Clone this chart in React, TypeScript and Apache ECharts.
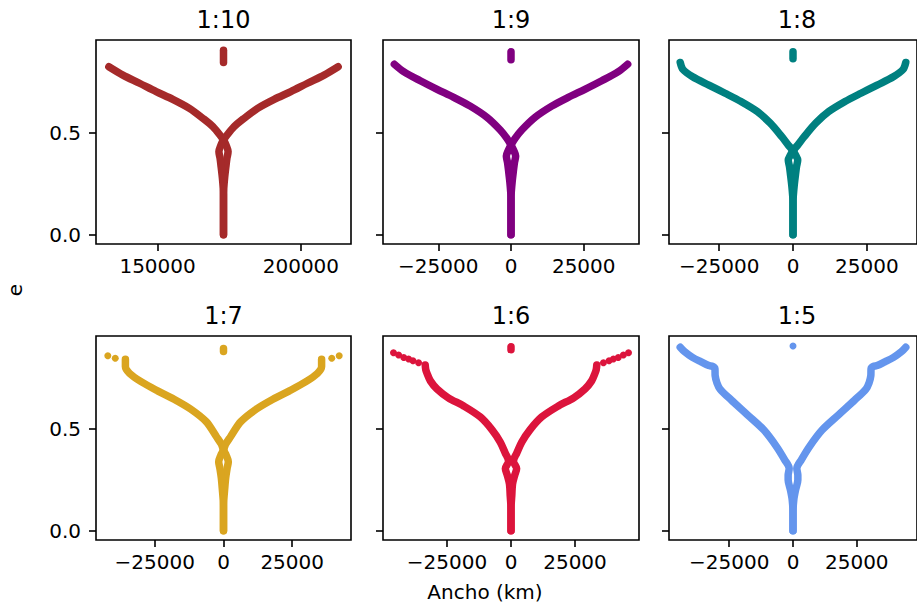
import React, { useEffect, useRef } from "react";
import * as echarts from "echarts";

const FONT = "DejaVu Sans";

const titles = ["1:10", "1:9", "1:8", "1:7", "1:6", "1:5"];
const colors = ["#a52a2a", "#800080", "#008080", "#daa520", "#dc143c", "#6495ed"];

const xMin = [128510, -44000, -42000, -46400, -50000, -48600];
const xMax = [217490, 44000, 42000, 46400, 50000, 48600];
const xTicksFirst = [150000, 200000];
const xTicksOther = [-25000, 0, 25000];
const yTicks = [0, 0.5];
const yMin = -0.045;
const yMax = 0.955;

// Panel 1:10
const p1Left = [[133000, 0.824], [137900, 0.783], [143700, 0.743], [149500, 0.702], [155300, 0.664], [161100, 0.62], [165800, 0.571], [169300, 0.53], [172200, 0.481], [173000, 0.465], [173900, 0.44], [174600, 0.408], [174200, 0.375], [173800, 0.33], [173400, 0.28], [173100, 0.23], [173000, 0.2], [173000, 0]];
const p1Right = [[213000, 0.824], [208100, 0.783], [202300, 0.743], [196500, 0.702], [190700, 0.664], [184900, 0.62], [180200, 0.571], [176700, 0.53], [173800, 0.481], [173000, 0.465], [172100, 0.44], [171400, 0.408], [171800, 0.375], [172200, 0.33], [172600, 0.28], [172900, 0.23], [173000, 0.2], [173000, 0]];
const p1Dash = [[173000, 0.845], [173000, 0.905]];

// Panel 1:9
const p2Left = [[-40100, 0.836], [-36900, 0.8], [-31200, 0.755], [-25400, 0.713], [-19700, 0.674], [-14000, 0.631], [-8250, 0.576], [-3700, 0.514], [-1400, 0.473], [0, 0.44], [900, 0.415], [1600, 0.386], [1200, 0.355], [800, 0.31], [400, 0.26], [100, 0.21], [0, 0.18], [0, 0]];
const p2Right = [[40100, 0.836], [36900, 0.8], [31200, 0.755], [25400, 0.713], [19700, 0.674], [14000, 0.631], [8250, 0.576], [3700, 0.514], [1400, 0.473], [0, 0.44], [-900, 0.415], [-1600, 0.386], [-1200, 0.355], [-800, 0.31], [-400, 0.26], [-100, 0.21], [0, 0.18], [0, 0]];
const p2Dash = [[0, 0.858], [0, 0.897]];

// Panel 1:8
const p3Left = [[-38200, 0.845], [-37300, 0.811], [-34000, 0.775], [-28500, 0.734], [-23000, 0.694], [-17600, 0.653], [-12100, 0.604], [-7700, 0.547], [-3800, 0.481], [-1600, 0.44], [0, 0.412], [900, 0.39], [1600, 0.367], [1200, 0.335], [800, 0.29], [400, 0.24], [100, 0.19], [0, 0.16], [0, 0]];
const p3Right = [[38200, 0.845], [37300, 0.811], [34000, 0.775], [28500, 0.734], [23000, 0.694], [17600, 0.653], [12100, 0.604], [7700, 0.547], [3800, 0.481], [1600, 0.44], [0, 0.412], [-900, 0.39], [-1600, 0.367], [-1200, 0.335], [-800, 0.29], [-400, 0.24], [-100, 0.19], [0, 0.16], [0, 0]];
const p3Dash = [[0, 0.863], [0, 0.897]];

// Panel 1:7
const p4Left = [[-35700, 0.841], [-35700, 0.805], [-34200, 0.772], [-30000, 0.731], [-24000, 0.686], [-18000, 0.645], [-12000, 0.597], [-6300, 0.535], [-2500, 0.46], [-800, 0.425], [0, 0.396], [1000, 0.37], [1750, 0.339], [1300, 0.305], [800, 0.26], [400, 0.2], [100, 0.15], [0, 0.12], [0, 0]];
const p4Right = [[35700, 0.841], [35700, 0.805], [34200, 0.772], [30000, 0.731], [24000, 0.686], [18000, 0.645], [12000, 0.597], [6300, 0.535], [2500, 0.46], [800, 0.425], [0, 0.396], [-1000, 0.37], [-1750, 0.339], [-1300, 0.305], [-800, 0.26], [-400, 0.2], [-100, 0.15], [0, 0.12], [0, 0]];
const p4Dash = [[0, 0.879], [0, 0.894]];
const p4Dots = [[-42100, 0.858], [-39400, 0.846], [39400, 0.846], [42100, 0.858]];

// Panel 1:6
const p5Left = [[-33500, 0.813], [-33300, 0.79], [-32800, 0.772], [-31500, 0.735], [-28900, 0.695], [-24500, 0.652], [-18500, 0.612], [-12000, 0.558], [-7400, 0.495], [-4200, 0.435], [-2200, 0.38], [-1200, 0.355], [-1000, 0.34], [-2200, 0.305], [-1400, 0.27], [-600, 0.23], [-300, 0.17], [0, 0.11], [0, 0]];
const p5Right = [[33500, 0.813], [33300, 0.79], [32800, 0.772], [31500, 0.735], [28900, 0.695], [24500, 0.652], [18500, 0.612], [12000, 0.558], [7400, 0.495], [4200, 0.435], [2200, 0.38], [1200, 0.355], [1000, 0.34], [2200, 0.305], [1400, 0.27], [600, 0.23], [300, 0.17], [0, 0.11], [0, 0]];
const p5Dash = [[0, 0.888], [0, 0.902]];
const p5Dots = [[-45900, 0.873], [-43900, 0.862], [-41900, 0.85], [-40000, 0.842], [-38300, 0.834], [-36100, 0.824], [36100, 0.824], [38300, 0.834], [40000, 0.842], [41900, 0.85], [43900, 0.862], [45900, 0.873]];

// Panel 1:5
const p6Left = [[-44200, 0.9], [-42500, 0.878], [-39400, 0.85], [-36000, 0.828], [-33000, 0.81], [-31500, 0.806], [-30600, 0.795], [-30500, 0.76], [-29800, 0.725], [-28600, 0.695], [-24200, 0.641], [-17800, 0.568], [-11400, 0.494], [-6400, 0.412], [-3200, 0.347], [-1500, 0.306], [-1900, 0.272], [-1900, 0.249], [-1000, 0.2], [-300, 0.151], [0, 0.086], [0, 0]];
const p6Right = [[44200, 0.9], [42500, 0.878], [39400, 0.85], [36000, 0.828], [33000, 0.81], [31500, 0.806], [30600, 0.795], [30500, 0.76], [29800, 0.725], [28600, 0.695], [24200, 0.641], [17800, 0.568], [11400, 0.494], [6400, 0.412], [3200, 0.347], [1500, 0.306], [1900, 0.272], [1900, 0.249], [1000, 0.2], [300, 0.151], [0, 0.086], [0, 0]];
const p6Dots = [[0, 0.906]];

const panelLines = [
  [p1Left, p1Right, p1Dash],
  [p2Left, p2Right, p2Dash],
  [p3Left, p3Right, p3Dash],
  [p4Left, p4Right, p4Dash],
  [p5Left, p5Right, p5Dash],
  [p6Left, p6Right],
];
const panelDots = [[], [], [], p4Dots, p5Dots, p6Dots];

const gridBoxes = [
  { left: 96, top: 40, width: 255, height: 204 },
  { left: 383, top: 40, width: 256, height: 204 },
  { left: 669, top: 40, width: 256, height: 204 },
  { left: 96, top: 336, width: 255, height: 204 },
  { left: 383, top: 336, width: 256, height: 204 },
  { left: 669, top: 336, width: 256, height: 204 },
];

const fmtX = (v: number) => (v < 0 ? "\u2212" + Math.abs(v) : String(v));

export default function App() {
  const ref = useRef<HTMLDivElement>(null);
  useEffect(() => {
    if (!ref.current) return;
    const chart = echarts.init(ref.current, null, { renderer: "svg" });
    const grid = gridBoxes.map((g) => ({
      ...g,
      show: true,
      borderColor: "#000",
      borderWidth: 1.6,
      backgroundColor: "transparent",
      containLabel: false,
    }));
    const xAxis = gridBoxes.map((_, i) => {
      const ticks = i === 0 ? xTicksFirst : xTicksOther;
      return {
        type: "value",
        gridIndex: i,
        position: "bottom",
        min: xMin[i],
        max: xMax[i],
        axisLine: { show: false, onZero: false },
        splitLine: { show: false },
        axisTick: { show: true, length: 7, customValues: ticks, lineStyle: { color: "#000", width: 1.6 } },
        axisLabel: {
          show: true,
          customValues: ticks,
          formatter: fmtX,
          fontSize: 20,
          fontFamily: FONT,
          color: "#000",
          margin: 12,
        },
      };
    });
    const yAxis = gridBoxes.map((_, i) => ({
      type: "value",
      gridIndex: i,
      position: "left",
      min: yMin,
      max: yMax,
      axisLine: { show: false, onZero: false },
      splitLine: { show: false },
      axisTick: { show: true, length: 7, customValues: yTicks, lineStyle: { color: "#000", width: 1.6 } },
      axisLabel: {
        show: i % 3 === 0,
        customValues: yTicks,
        formatter: (v: number) => v.toFixed(1),
        fontSize: 20,
        fontFamily: FONT,
        color: "#000",
        margin: 15,
      },
    }));
    const series: any[] = [];
    panelLines.forEach((lines, i) => {
      lines.forEach((d) => {
        series.push({
          type: "line",
          xAxisIndex: i,
          yAxisIndex: i,
          data: d,
          symbol: "none",
          showSymbol: false,
          smooth: 0.3,
          silent: true,
          lineStyle: { color: colors[i], width: 7.5, cap: "round", join: "round", opacity: 1 },
        });
      });
      if (panelDots[i].length) {
        series.push({
          type: "scatter",
          xAxisIndex: i,
          yAxisIndex: i,
          data: panelDots[i],
          symbolSize: 7,
          silent: true,
          itemStyle: { color: colors[i], opacity: 1 },
        });
      }
    });
    const graphic: any[] = titles.map((t, i) => ({
      type: "text",
      x: gridBoxes[i].left + gridBoxes[i].width / 2,
      y: gridBoxes[i].top - 20,
      style: { text: t, fontSize: 24, fontFamily: FONT, fill: "#000", align: "center", verticalAlign: "middle" },
    }));
    graphic.push({
      type: "text",
      x: 485,
      y: 592,
      style: { text: "Ancho (km)", fontSize: 20, fontFamily: FONT, fill: "#000", align: "center", verticalAlign: "middle" },
    });
    graphic.push({
      type: "text",
      x: 15,
      y: 290,
      rotation: Math.PI / 2,
      style: { text: "e", fontSize: 20, fontFamily: FONT, fill: "#000", align: "center", verticalAlign: "middle" },
    });
    chart.setOption({
      animation: false,
      backgroundColor: "#fff",
      grid,
      xAxis,
      yAxis,
      series,
      graphic,
    });
    return () => chart.dispose();
  }, []);
  return (
    <div
      ref={ref}
      style={{ position: "absolute", left: 0, top: 0, width: 917, height: 610 }}
    />
  );
}
